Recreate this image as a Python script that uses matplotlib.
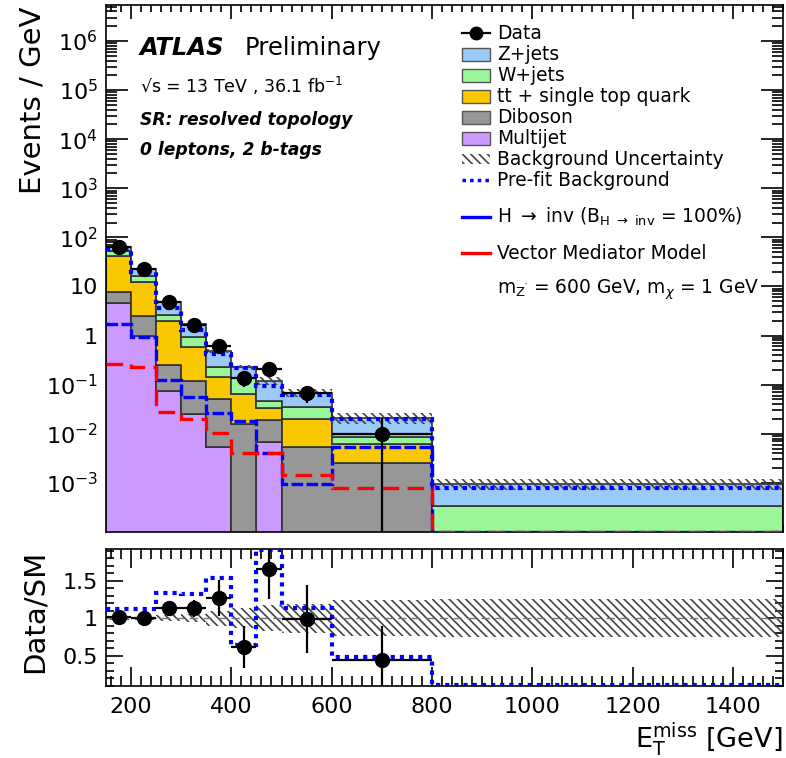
import numpy as np
import matplotlib
matplotlib.use("Agg")
import matplotlib.pyplot as plt
from matplotlib.patches import Rectangle
from matplotlib.lines import Line2D
from matplotlib.ticker import FixedLocator, MultipleLocator, FuncFormatter, LogLocator, NullFormatter

plt.rcParams['font.family'] = ['DejaVu Sans']
plt.rcParams['hatch.linewidth'] = 1.2

# bin edges in GeV
edges = [150, 200, 250, 300, 350, 400, 450, 500, 600, 800, 1500]

# backgrounds (Events / GeV), stacked bottom to top
multijet = [4.6, 1.0, 0.075, 0.025, 0.0054, 0, 0.0069, 0, 0, 0]
diboson = [3.0, 1.56, 0.18, 0.095, 0.046, 0.0158, 0.012, 0.0053, 0.0025, 0.00002]
ttbar = [35, 9.7, 1.76, 0.46, 0.095, 0.050, 0.015, 0.0143, 0.0037, 0.00003]
wjets = [11, 4.4, 0.62, 0.37, 0.087, 0.074, 0.013, 0.0154, 0.0025, 0.00029]
zjets = [9, 6.3, 2.3, 0.78, 0.247, 0.086, 0.073, 0.034, 0.0123, 0.0006]

prefit = [57, 20, 3.7, 1.31, 0.42, 0.22, 0.093, 0.063, 0.020, 0.0008]
hinv = [1.73, 0.92, 0.125, 0.055, 0.027, 0.0184, 0.004, 0.00094, 0.0054, 0]
vector = [0.26, 0.23, 0.028, 0.0196, 0.0106, 0.004, 0.004, 0.00144, 0.00078, 0]

# data (first 9 bins)
data = [65, 23, 4.8, 1.68, 0.62, 0.14, 0.21, 0.069, 0.0098]
data_lo = [1.1, 0.7, 0.3, 0.18, 0.11, 0.05, 0.05, 0.026, 0.0097]
data_hi = [1.1, 0.7, 0.3, 0.18, 0.11, 0.05, 0.05, 0.026, 0.011]

# ratio panel
ratio = [1.02, 1.01, 1.13, 1.13, 1.27, 0.62, 1.65, 0.99, 0.45]
ratio_err = [0.03, 0.03, 0.05, 0.11, 0.24, 0.28, 0.40, 0.45, 0.45]
prefit_ratio = [1.12, 1.12, 1.33, 1.32, 1.53, 0.64, 2.0, 1.13, 0.48, 0]
unc = [0.02, 0.02, 0.04, 0.05, 0.10, 0.13, 0.17, 0.19, 0.24, 0.25]

names = ['Multijet', 'Diboson', 'tt + single top quark', 'W+jets', 'Z+jets']
colors = ['#cc99ff', '#979797', '#fac800', '#99f799', '#9acaf7']

W, H = 786, 758
fig = plt.figure(figsize=(W / 100, H / 100), dpi=100)


def box(l, t, r, b):
    return [l / W, 1 - b / H, (r - l) / W, (b - t) / H]


ax = fig.add_axes(box(106, 5, 783, 532))
rax = fig.add_axes(box(106, 549, 783, 686), sharex=ax)

YMIN, YMAX = 1e-4, 5.4e6
RMIN, RMAX = 0.1, 1.92
HATCH = '\\' * 4

e = np.array(edges, float)
cen = 0.5 * (e[1:] + e[:-1])
half = 0.5 * (e[1:] - e[:-1])
floor = 1e-7

# stack
bottom = np.full(len(cen), floor)
for vals, c in zip([multijet, diboson, ttbar, wjets, zjets], colors):
    top = bottom + np.array(vals)
    ax.stairs(top, e, baseline=bottom, fill=True, color=c, zorder=2)
    ax.stairs(top, e, baseline=bottom, fill=False, color='#333333', lw=1.2, zorder=2)
    bottom = top
total = bottom

u = np.array(unc)
ax.stairs(total * (1 + u), e, baseline=total * (1 - u), fill=True, facecolor='none',
          edgecolor='#444444', hatch=HATCH, lw=0, zorder=3)

# empty bins are drawn on the frame edge, as in the original
ax.stairs(np.clip(prefit, YMIN * 1.02, None), e, baseline=None, color='#0000ff', lw=3,
          linestyle=(0, (1, 1.2)), zorder=4)
ax.stairs(np.clip(hinv, YMIN * 1.02, None), e, baseline=None, color='#0000ff', lw=2.4,
          linestyle=(0, (3.5, 1)), zorder=5)
ax.stairs(np.clip(vector, YMIN * 1.02, None), e, baseline=None, color='#ff0000', lw=2.4,
          linestyle=(0, (5, 2.5)), zorder=5)

nd = len(data)
ax.errorbar(cen[:nd], data, xerr=half[:nd], yerr=[data_lo, data_hi], fmt='o', color='k',
            ms=10, lw=1.6, capsize=0, zorder=6)

ax.set_yscale('log')
ax.set_ylim(YMIN, YMAX)
ax.set_xlim(150, 1500)


def ylab(v, pos):
    k = int(round(np.log10(v)))
    if k == 0:
        return '1'
    if k == 1:
        return '10'
    return r'$\mathregular{10^{%d}}$' % k


ax.yaxis.set_major_locator(FixedLocator([10.0 ** k for k in range(-3, 7)]))
ax.yaxis.set_major_formatter(FuncFormatter(ylab))
ax.yaxis.set_minor_locator(LogLocator(base=10, subs=np.arange(2, 10), numticks=30))
ax.yaxis.set_minor_formatter(NullFormatter())
ax.xaxis.set_major_locator(MultipleLocator(200))
ax.xaxis.set_minor_locator(MultipleLocator(20))
ax.tick_params(axis='x', labelbottom=False)
ax.tick_params(which='both', direction='in', top=True, right=True, labelsize=16, width=1.2)
ax.tick_params(axis='x', which='major', length=10)
ax.tick_params(axis='x', which='minor', length=5)
ax.tick_params(axis='y', which='major', length=16, pad=6)
ax.tick_params(axis='y', which='minor', length=8)

# ratio panel
rax.stairs(1 + u, e, baseline=1 - u, fill=True, facecolor='none', edgecolor='#444444',
           hatch=HATCH, lw=0, zorder=2)
rax.axhline(1, color='#777777', lw=1, ls=(0, (6, 4)), zorder=2)
rax.stairs(np.clip(prefit_ratio, RMIN + 0.01, RMAX - 0.01), e, baseline=None,
           color='#0000ff', lw=3, linestyle=(0, (1, 1.2)), zorder=3)
rax.errorbar(cen[:nd], ratio, xerr=half[:nd], yerr=ratio_err, fmt='o', color='k',
             ms=10, lw=1.6, capsize=0, zorder=4)
rax.set_ylim(RMIN, RMAX)
rax.yaxis.set_major_locator(FixedLocator([0.5, 1, 1.5]))
rax.yaxis.set_major_formatter(FuncFormatter(lambda v, p: '%g' % v))
rax.yaxis.set_minor_locator(MultipleLocator(0.1))
rax.tick_params(which='both', direction='in', top=True, right=True, labelsize=16, width=1.2)
rax.tick_params(axis='x', which='major', length=14, pad=8)
rax.tick_params(axis='x', which='minor', length=7)
rax.tick_params(axis='y', which='major', length=12, pad=6)
rax.tick_params(axis='y', which='minor', length=6)
for a in (ax, rax):
    for s in a.spines.values():
        s.set_linewidth(1.2)

# overlay in pixel coordinates for labels and legend
ov = fig.add_axes([0, 0, 1, 1])
ov.set_xlim(0, W)
ov.set_ylim(H, 0)
ov.axis('off')
ov.patch.set_alpha(0)

ov.text(33, 7, 'Events / GeV', rotation=90, ha='center', va='top', fontsize=21)
ov.text(35, 611, 'Data/SM', rotation=90, ha='center', va='center', fontsize=21)
ov.text(783, 747, r'E$_{\mathregular{T}}^{\mathregular{miss}}$ [GeV]', ha='right',
        va='baseline', fontsize=19.5)

ov.text(140, 55, 'ATLAS', fontsize=17.5, fontweight='bold', style='italic', va='baseline')
ov.text(245, 55, 'Preliminary', fontsize=17.5, va='baseline')
ov.text(140, 93, r'√s = 13 TeV , 36.1 fb$^{\mathregular{-1}}$', fontsize=12.5, va='baseline')
ov.text(140, 125, 'SR: resolved topology', fontsize=12.3, fontweight='bold', style='italic',
        va='baseline')
ov.text(140, 155, '0 leptons, 2 b-tags', fontsize=12.3, fontweight='bold', style='italic',
        va='baseline')

# legend
lx0, lx1, tx = 462, 490, 497
fs = 13.4
rows = [33 + 21 * i for i in range(8)] + [217, 253, 288]
ov.add_line(Line2D([lx0, lx1], [rows[0], rows[0]], color='k', lw=1.6))
ov.plot([(lx0 + lx1) / 2], [rows[0]], 'o', color='k', ms=9)
ov.text(tx, rows[0] + 6, 'Data', fontsize=fs, va='baseline')
for i, (n, c) in enumerate(zip(names[::-1], colors[::-1])):
    y = rows[i + 1]
    ov.add_patch(Rectangle((lx0, y - 6.5), lx1 - lx0, 13, facecolor=c, edgecolor='#555555', lw=1))
    ov.text(tx, y + 6, n, fontsize=fs, va='baseline')
y = rows[6]
ov.add_patch(Rectangle((lx0, y - 5), lx1 - lx0, 10, facecolor='none', edgecolor='#444444',
                       hatch=HATCH, lw=0))
ov.text(tx, y + 6, 'Background Uncertainty', fontsize=fs, va='baseline')
y = rows[7]
ov.add_line(Line2D([lx0, lx1], [y, y], color='#0000ff', lw=2.5, linestyle=(0, (1, 1.2))))
ov.text(tx, y + 6, 'Pre-fit Background', fontsize=fs, va='baseline')
y = rows[8]
ov.add_line(Line2D([lx0, lx1], [y, y], color='#0000ff', lw=2.4))
ov.text(tx, y + 6, r'H $\rightarrow$ inv (B$_{\mathregular{H\ \rightarrow\ inv}}$ = 100%)',
        fontsize=fs, va='baseline')
y = rows[9]
ov.add_line(Line2D([lx0, lx1], [y, y], color='#ff0000', lw=2.4))
ov.text(tx, y + 6, 'Vector Mediator Model', fontsize=fs, va='baseline')
ov.text(tx, rows[10] + 6, r"m$_{\mathregular{Z'}}$ = 600 GeV, m$_{\chi}$ = 1 GeV",
        fontsize=fs, va='baseline')

fig.savefig('out.png', dpi=100)
